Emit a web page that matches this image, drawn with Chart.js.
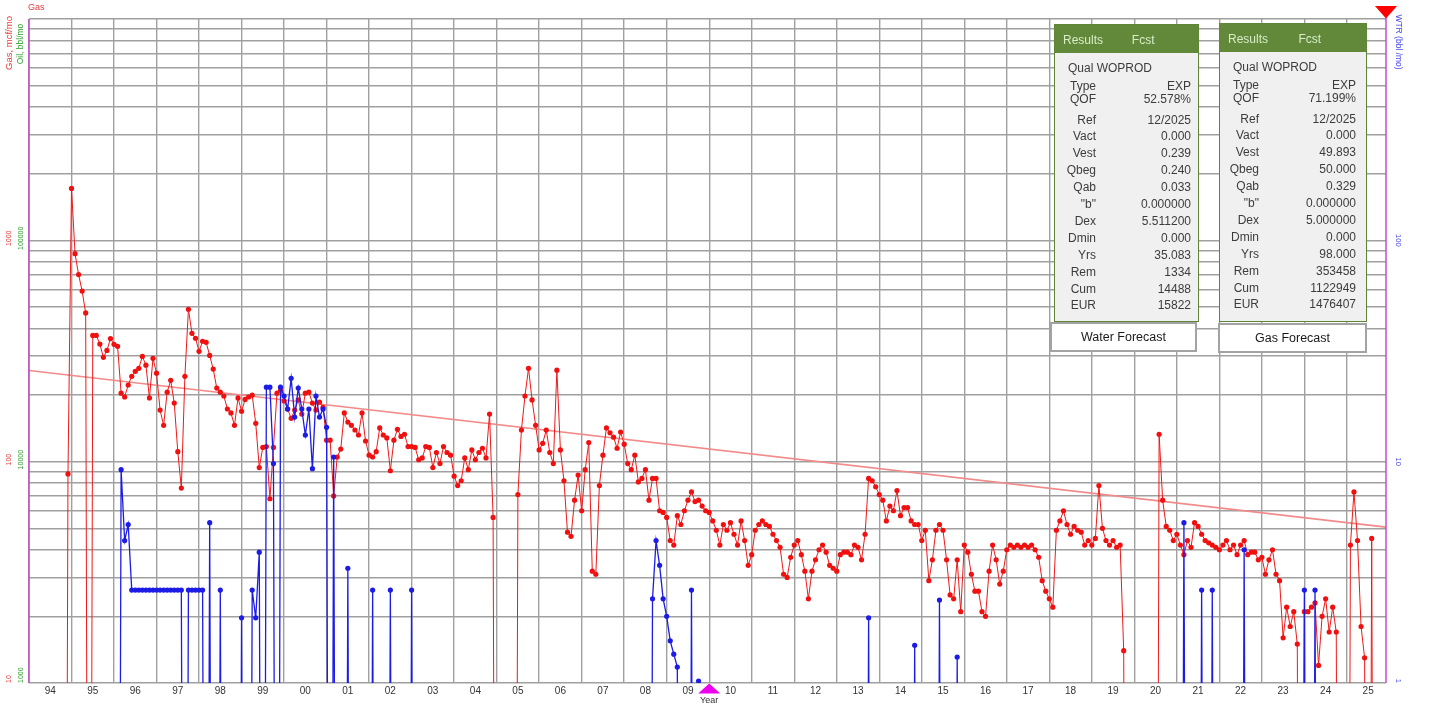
<!DOCTYPE html>
<html>
<head>
<meta charset="utf-8">
<script src="https://cdn.jsdelivr.net/npm/chart.js@4.4.1/dist/chart.umd.min.js"></script>
<style>
html,body{margin:0;padding:0;background:#fff}
#wrap{position:relative;width:1432px;height:712px;font-family:"Liberation Sans",Arial,sans-serif;overflow:hidden}
#c{position:absolute;left:0;top:0}
.panel{position:absolute;background:#f0f0f0;border:1px solid #5f8636;box-sizing:border-box}
.hdr{position:absolute;left:0;right:0;top:0;height:28px;background:#62893a}
.panel span{position:absolute;white-space:nowrap;line-height:14px;font-size:12px;color:#3c3c3c}
.hdr span{color:#d8ecc8 !important}
.btn{position:absolute;background:#fff;border:2px solid #a3a3a3;box-sizing:border-box;font-size:12.5px;color:#1a1a1a;text-align:center;line-height:26px}
</style>
</head>
<body>
<div id="wrap"><canvas id="c" width="1432" height="712"></canvas></div>
<script>
/* monthly gas, first month 1994-11, 0 = no production */
const gasStart="1994-11";
const gasMonthly=[
 0,88,
 1716,870,700,590,470,0,372,372,340,296,318,360,   // 1995
 339,332,204,196,222,243,256,264,299,273,194,293,  // 1996
 251,171,146,206,233,184,111,76,243,488,380,361,   // 1997
 315,350,346,302,262,215,206,198,173,166,146,194,  // 1998
 169,191,196,200,149,94,116,117,68,116,204,210,    // 1999
 188,173,157,171,190,164,204,206,184,171,186,176,  // 2000
 125,125,70,105,114,166,151,146,139,132,166,124,   // 2001
 107,105,111,142,132,128,91,125,140,130,133,117,   // 2002
 117,116,102,104,117,116,94,110,98,117,110,107,    // 2003
 86,78,82,104,92,113,102,110,115,104,164,56,       // 2004
 0,0,0,0,0,0,71,139,198,264,190,146,               // 2005
 113,121,139,110,98,259,113,82,48,46,67,87,        // 2006
 60,92,122,32,31,78,107,142,135,129,115,136,       // 2007
 120,98,92,107,81,84,92,67,84,84,60,59,            // 2008
 56,44,42,57,52,60,67,73,66,67,63,60,              // 2009
 59,54,49,42,52,49,53,47,42,54,44,34,              // 2010
 38,49,52,54,52,51,47,44,41,31,30,37,              // 2011
 42,44,38,32,24,32,36,40,42,39,34,33,              // 2012
 32,38,39,39,38,42,41,36,47,84,82,77,              // 2013
 71,67,54,63,60,74,57,62,62,54,52,52,              // 2014
 44,49,29,36,49,52,49,36,25,24,36,21,              // 2015
 42,39,31,26,26,21,20,32,42,36,28,32,              // 2016
 40,42,41,42,41,42,41,42,40,37,29,26,              // 2017
 24,22,49,54,60,52,47,51,49,48,42,44,              // 2018
 42,45,78,50,44,42,44,41,42,14,0,0,                // 2019
 0,0,0,0,0,0,0,133,67,51,49,44,                    // 2020
 47,42,38,44,41,53,51,47,44,43,42,41,              // 2021
 40,42,44,40,42,38,42,44,38,39,39,36,              // 2022
 37,31,36,40,31,29,16,22,18,21,15,0,               // 2023
 21,21,22,23,12,20,24,17,22,17,0,0,                // 2024
 0,42,73,44,18,13,0,45,0                           // 2025
];

/* water, bbl/mo: months listed with the zero months around each run */
const waterMonths=[
 "1996-02","1996-03","1996-04","1996-05","1996-06","1996-07","1996-08","1996-09","1996-10","1996-11","1996-12",
 "1997-01","1997-02","1997-03","1997-04","1997-05","1997-06","1997-07","1997-08","1997-09","1997-10","1997-11","1997-12",
 "1998-01","1998-02","1998-03","1998-04","1998-05","1998-06","1998-07","1998-08",
 "1998-12","1999-01","1999-02","1999-03","1999-04","1999-05","1999-06","1999-07","1999-08","1999-09","1999-10","1999-11","1999-12",
 "2000-01","2000-02","2000-03","2000-04","2000-05","2000-06","2000-07","2000-08","2000-09","2000-10","2000-11","2000-12",
 "2001-01","2001-02","2001-03","2001-04","2001-06","2001-07","2001-08",
 "2002-01","2002-02","2002-03","2002-06","2002-07","2002-08","2002-12","2003-01","2003-02",
 "2008-08","2008-09","2008-10","2008-11","2008-12","2009-01","2009-02","2009-03","2009-04","2009-05",
 "2009-07","2009-08","2009-09","2009-10","2009-11",
 "2013-09","2013-10","2013-11","2014-10","2014-11","2014-12",
 "2015-05","2015-06","2015-07","2015-10","2015-11","2015-12",
 "2021-02","2021-03","2021-04","2021-07","2021-08","2021-09","2021-10","2021-11","2021-12",
 "2022-07","2022-08","2022-09","2023-12","2024-01","2024-02","2024-03","2024-04","2024-05"
];
const waterValues=[
 0,9.2,4.4,5.2,2.63,2.63,2.63,2.63,2.63,2.63,2.63,
 2.63,2.63,2.63,2.63,2.63,2.63,2.63,2.63,0,2.63,2.63,2.63,
 2.63,2.63,0,5.3,0,0,2.63,0,
 0,1.97,0,0,2.63,1.97,3.9,0,21.7,21.7,9.8,0,21.7,
 19.8,17.3,23.8,15.9,21.5,17.3,13.2,17.3,9.3,19.8,15.9,17.3,
 14.3,0,10.5,0,0,3.3,0,
 0,2.63,0,0,2.63,0,0,2.63,0,
 0,2.4,4.4,3.4,2.4,2.0,1.55,1.35,1.18,0,
 0,2.63,0,1.02,0,
 0,1.97,0,0,1.48,0,
 0,2.37,0,0,1.31,0,
 0,5.3,0,0,2.63,0,0,2.63,0,
 0,4.0,0,0,2.63,0,0,2.63,0
];

/* gas forecast line (exp decline) */
const forecastX=[1994,2025.92];
const forecastGas=[258,50.6];

const yearTicks=[1994,1995,1996,1997,1998,1999,2000,2001,2002,2003,2004,2005,2006,2007,2008,2009,
 2010,2011,2012,2013,2014,2015,2016,2017,2018,2019,2020,2021,2022,2023,2024,2025];
const yearLabels=["94","95","96","97","98","99","00","01","02","03","04","05","06","07","08","09",
 "10","11","12","13","14","15","16","17","18","19","20","21","22","23","24","25"];

const gasAxisTicks=[10,100,1000];
const gasAxisLabels=["10","100","1000"];
const oilAxisLabels=["1000","10000","100000"];
const waterAxisTicks=[1,10,100];
const waterAxisLabels=["1","10","100"];
const cursorYear=2010;

const panelLabels=["Type","QOF","Ref","Vact","Vest","Qbeg","Qab","\"b\"","Dex","Dmin","Yrs","Rem","Cum","EUR"];
const waterFcst=["EXP","52.578%","12/2025","0.000","0.239","0.240","0.033","0.000000","5.511200","0.000","35.083","1334","14488","15822"];
const gasFcst=["EXP","71.199%","12/2025","0.000","49.893","50.000","0.329","0.000000","5.000000","0.000","98.000","353458","1122949","1476407"];

function toX(ym){
 const p=ym.split("-");
 return Number(p[0])+(Number(p[1])-1)/12;
}

const gasX0=toX(gasStart);
const gasData=gasMonthly.map((v,i)=>({x:gasX0+i/12,y:v>0?v:0.001}));
const waterData=waterMonths.map((m,i)=>({x:toX(m),y:waterValues[i]>0?waterValues[i]:0.0001}));
const fcData=forecastX.map((x,i)=>({x,y:forecastGas[i]}));

function rotText(ctx,txt,x,y,ang,color,font,lo,hi){
 ctx.save();
 ctx.font=font;
 const w=ctx.measureText(txt).width;
 if(lo!==undefined) y=Math.max(lo+w/2,Math.min(hi-w/2,y));
 ctx.translate(x,y);
 ctx.rotate(ang);
 ctx.fillStyle=color;
 ctx.textAlign="center";
 ctx.textBaseline="middle";
 ctx.fillText(txt,0,0);
 ctx.restore();
}

const decor={
 id:"decor",
 afterDraw(chart){
  const ctx=chart.ctx,a=chart.chartArea;
  const sx=chart.scales.x,sg=chart.scales.y,sw=chart.scales.y2;
  ctx.save();
  // borders
  ctx.strokeStyle="#c94bd0";
  ctx.lineWidth=1.5;
  ctx.beginPath();
  ctx.moveTo(a.left,a.top);ctx.lineTo(a.left,a.bottom);
  ctx.moveTo(a.right,a.top-1);ctx.lineTo(a.right,a.bottom);
  ctx.stroke();
  // red end marker
  ctx.fillStyle="#ff0000";
  ctx.beginPath();
  ctx.moveTo(a.right-11,6);ctx.lineTo(a.right+11,6);ctx.lineTo(a.right,18.5);
  ctx.closePath();ctx.fill();
  // year cursor
  const cx=sx.getPixelForValue(cursorYear);
  ctx.fillStyle="#ee00ee";
  ctx.beginPath();
  ctx.moveTo(cx,a.bottom+0.5);ctx.lineTo(cx-11,a.bottom+10.5);ctx.lineTo(cx+11,a.bottom+10.5);
  ctx.closePath();ctx.fill();
  // year labels
  ctx.font='10px "Liberation Sans", Arial, sans-serif';
  ctx.fillStyle="#333";
  ctx.textAlign="center";
  ctx.textBaseline="middle";
  yearTicks.forEach((yr,i)=>ctx.fillText(yearLabels[i],sx.getPixelForValue(yr+0.5),a.bottom+8));
  ctx.font='9px "Liberation Sans", Arial, sans-serif';
  ctx.fillText("Year",cx,a.bottom+17.5);
  // left axis numbers
  const nf='7px "Liberation Sans", Arial, sans-serif';
  gasAxisTicks.forEach((v,i)=>{
   const py=sg.getPixelForValue(v)-2;
   rotText(ctx,gasAxisLabels[i],9.5,py,-Math.PI/2,"#e83a3a",nf,a.top,a.bottom);
   rotText(ctx,oilAxisLabels[i],20.7,py,-Math.PI/2,"#2a9e2a",nf,a.top,a.bottom);
  });
  // right axis numbers
  waterAxisTicks.forEach((v,i)=>{
   rotText(ctx,waterAxisLabels[i],1398,sw.getPixelForValue(v),Math.PI/2,"#4a4aee",'7.5px "Liberation Sans", Arial, sans-serif',a.top,a.bottom);
  });
  // titles
  ctx.font='9px "Liberation Sans", Arial, sans-serif';
  ctx.fillStyle="#e83a3a";
  ctx.textAlign="left";
  ctx.fillText("Gas",28,8);
  rotText(ctx,"Gas, mcf/mo",9,43,-Math.PI/2,"#e83a3a",'9.5px "Liberation Sans", Arial, sans-serif');
  rotText(ctx,"Oil, bbl/mo",20.5,44,-Math.PI/2,"#2a9e2a",'8.5px "Liberation Sans", Arial, sans-serif');
  rotText(ctx,"WTR (bbl /mo)",1398,42,Math.PI/2,"#4a4aee",'8.5px "Liberation Sans", Arial, sans-serif');
  ctx.restore();
 }
};

const gridCol="#a0a0a0";

new Chart(document.getElementById("c"),{
 type:"line",
 data:{datasets:[
  {data:waterData,yAxisID:"y2",order:1,borderColor:"#1c1ce6",borderWidth:1.3,
   pointRadius:2.6,pointBackgroundColor:"#1c1ce6",pointBorderWidth:0,clip:{left:5,right:5,top:5,bottom:0}},
  {data:gasData,yAxisID:"y",order:2,borderColor:"#f01818",borderWidth:1,
   pointRadius:2.6,pointBackgroundColor:"#f01010",pointBorderWidth:0,clip:{left:5,right:5,top:5,bottom:0}},
  {data:fcData,yAxisID:"y",order:3,borderColor:"#f28a8a",borderWidth:1.6,pointRadius:0}
 ]},
 options:{
  responsive:false,
  animation:false,
  events:[],
  layout:{padding:{left:29,right:46,top:19,bottom:29}},
  plugins:{legend:{display:false},tooltip:{enabled:false}},
  scales:{
   x:{type:"linear",min:1994,max:2025.92,
    afterBuildTicks(s){s.ticks=yearTicks.map(v=>({value:v}));},
    afterFit(s){s.height=0;},
    ticks:{display:false},
    border:{display:false},
    grid:{color:gridCol,lineWidth:1.4,drawTicks:false}},
   y:{type:"logarithmic",position:"left",min:10,max:10000,
    afterBuildTicks(s){
     const t=[];
     gasAxisTicks.forEach(d=>{for(let k=1;k<10;k++)t.push({value:d*k});});
     t.push({value:s.max});
     s.ticks=t;
    },
    afterFit(s){s.width=0;},
    ticks:{display:false},
    border:{display:false},
    grid:{color:gridCol,lineWidth:1.4,drawTicks:false}},
   y2:{type:"logarithmic",position:"right",min:1,max:1000,
    afterFit(s){s.width=0;},
    ticks:{display:false},
    border:{display:false},
    grid:{display:false}}
  }
 },
 plugins:[decor]
});

/* result panels */
function buildPanel(left,top,width,labRight,vals,btnText,btnLeft,btnTop,btnWidth){
 const wrap=document.getElementById("wrap");
 const p=document.createElement("div");
 p.className="panel";
 p.style.cssText=`left:${left}px;top:${top}px;width:${width}px;height:${322-top}px`;
 let h=`<div class="hdr"><span style="left:8px;top:8px">Results</span><span style="left:${width*0.53}px;top:8px">Fcst</span></div>`;
 h+=`<span style="left:13px;top:${43-7}px">Qual WOPROD</span>`;
 const rows=[60.5,73.5];
 for(let k=2;k<panelLabels.length;k++) rows.push(94.5+(k-2)*16.9);
 panelLabels.forEach((lab,k)=>{
  const y=rows[k]-7;
  h+=`<span style="right:${width-labRight}px;top:${y}px">${lab}</span>`;
  h+=`<span style="right:${width-138}px;top:${y}px">${vals[k]}</span>`;
 });
 p.innerHTML=h;
 wrap.appendChild(p);
 const b=document.createElement("div");
 b.className="btn";
 b.style.cssText=`left:${btnLeft}px;top:${btnTop}px;width:${btnWidth}px;height:30px`;
 b.textContent=btnText;
 wrap.appendChild(b);
}
buildPanel(1054,24,145,43,waterFcst,"Water Forecast",1050,322,147);
buildPanel(1219,23,148,41,gasFcst,"Gas Forecast",1218,323,149);
</script>
</body>
</html>
